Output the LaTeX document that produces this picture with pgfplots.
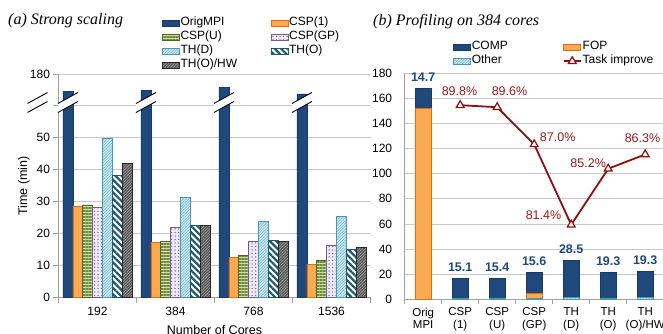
\documentclass[border=0pt]{standalone}
\usepackage{fontspec}
\setmainfont{Liberation Sans}
\newfontfamily\serifit{Liberation Serif}
\usepackage{pgfplots}
\pgfplotsset{compat=1.18}
\usetikzlibrary{patterns.meta}
\definecolor{cMPI}{RGB}{31,73,125}
\definecolor{cMPIb}{RGB}{25,58,102}
\definecolor{cOr}{RGB}{250,170,80}
\definecolor{cOrb}{RGB}{228,108,10}
\definecolor{cGr}{RGB}{205,222,170}
\definecolor{cGrl}{RGB}{110,140,60}
\definecolor{cGrb}{RGB}{80,100,40}
\definecolor{cLav}{RGB}{238,234,244}
\definecolor{cLavd}{RGB}{128,100,162}
\definecolor{cLavb}{RGB}{110,95,140}
\definecolor{cTD}{RGB}{205,233,240}
\definecolor{cTDl}{RGB}{110,180,200}
\definecolor{cTDb}{RGB}{75,150,175}
\definecolor{cTO}{RGB}{33,89,104}
\definecolor{cHW}{RGB}{85,85,85}
\definecolor{cHWl}{RGB}{160,160,160}
\definecolor{cHWb}{RGB}{40,40,40}
\definecolor{cLine}{RGB}{140,16,16}
\definecolor{cLab}{RGB}{155,25,25}
\definecolor{cGrid}{RGB}{200,200,200}
\definecolor{cAxis}{RGB}{160,160,160}
\tikzset{
 sMPI/.style={fill=cMPI, draw=cMPIb, line width=0.6pt},
 sCSP1/.style={fill=cOr, draw=cOrb, line width=0.6pt},
 sCSPU/.style={preaction={fill=cGr}, pattern={Lines[angle=0,distance=3pt,line width=1.3pt]}, pattern color=cGrl, draw=cGrb, line width=0.6pt},
 sCSPGP/.style={preaction={fill=cLav}, pattern={Dots[distance=3.5pt,radius=0.75pt]}, pattern color=cLavd, draw=cLavb, line width=0.6pt},
 sTHD/.style={preaction={fill=cTD}, pattern={Lines[angle=45,distance=2pt,line width=0.5pt]}, pattern color=cTDl, draw=cTDb, line width=0.6pt},
 sTHO/.style={preaction={fill=white}, pattern={Lines[angle=-45,distance=4.5pt,line width=2.2pt]}, pattern color=cTO, draw=cTO, line width=0.6pt},
 sHW/.style={preaction={fill=cHW}, pattern={Lines[angle=45,distance=2pt,line width=0.6pt]}, pattern color=cHWl, draw=cHWb, line width=0.6pt},
}
\pgfplotsset{
 /pgf/number format/assume math mode=true,
 barleg/.style={legend image code/.code={\draw[##1] (0pt,-3pt) rectangle (17pt,3pt);}},
}
\newcommand\brk[2]{%
 \begin{scope}[shift={(axis cs:#1,#2)}]
  \fill[white] (-10pt,-10pt) -- (10pt,1pt) -- (10pt,10pt) -- (-10pt,-1pt) -- cycle;
  \draw[black, line width=0.9pt] (-10pt,-10pt) -- (10pt,1pt) (-10pt,-1pt) -- (10pt,10pt);
 \end{scope}}
\begin{document}
\begin{tikzpicture}
\useasboundingbox (0pt,0pt) rectangle (663pt,334pt);
\node[anchor=base west, inner sep=0pt, font=\serifit\itshape\fontsize{16}{19}\selectfont] at (8pt,309pt) {(a) Strong scaling};
\node[anchor=base west, inner sep=0pt, font=\serifit\itshape\fontsize{16}{19}\selectfont] at (373pt,308.5pt) {(b) Profiling on 384 cores};

\begin{axis}[at={(58.5pt,36.3pt)}, anchor=south west, scale only axis,
 width=312pt, height=223.2pt,
 ybar=0pt, bar width=9.86pt, clip=false,
 xmin=-0.5, xmax=3.5, ymin=0, ymax=69.75,
 xtick={-0.5,0.5,1.5,2.5,3.5}, x tick label as interval,
 xticklabels={192,384,768,1536},
 ytick={0,10,20,30,40,50,60,69.75}, yticklabels={0,10,20,30,40,50,{},180},
 axis x line*=bottom, axis y line*=left,
 axis line style={-,draw=cAxis,line width=0.8pt},
 tick align=outside, major tick length=5pt,
 tick style={draw=cAxis,line width=0.8pt},
 ymajorgrids, grid style={draw=cGrid,line width=0.8pt},
 ticklabel style={font=\fontsize{12}{14}\selectfont},
 xticklabel style={yshift=-1pt},
 ylabel={Time (min)},
 ylabel style={at={(axis description cs:-0.1106,0.5)}, anchor=center, font=\fontsize{12.5}{14}\selectfont},
 xlabel={Number of Cores},
 xlabel style={at={(axis description cs:0.5,-0.1671)}, anchor=base, font=\fontsize{12.5}{14}\selectfont},
 legend columns=2,
 legend style={draw=none, fill=none, at={(axis description cs:0.3308,1.2608)}, anchor=north west,
   inner sep=0pt, column sep=0pt, row sep=0pt,
   nodes={inner sep=1pt, text height=8.5pt, text depth=3.5pt, font=\fontsize{12}{14}\selectfont}},
 legend cell align=left,
]
\addplot[sMPI,barleg] coordinates {(0,64.4) (1,64.9) (2,65.75) (3,63.7)};
\addlegendentry{\makebox[89pt][l]{OrigMPI}}
\addplot[sCSP1,barleg] coordinates {(0,28.7) (1,17.3) (2,12.5) (3,10.5)};
\addlegendentry{\makebox[89pt][l]{CSP(1)}}
\addplot[sCSPU,barleg] coordinates {(0,29.0) (1,17.7) (2,13.1) (3,11.6)};
\addlegendentry{\makebox[89pt][l]{CSP(U)}}
\addplot[sCSPGP,barleg] coordinates {(0,28.4) (1,22.0) (2,17.5) (3,16.5)};
\addlegendentry{\makebox[89pt][l]{CSP(GP)}}
\addplot[sTHD,barleg] coordinates {(0,49.7) (1,31.4) (2,23.8) (3,25.3)};
\addlegendentry{\makebox[89pt][l]{TH(D)}}
\addplot[sTHO,barleg] coordinates {(0,38.3) (1,22.7) (2,17.8) (3,15.2)};
\addlegendentry{\makebox[89pt][l]{TH(O)}}
\addplot[sHW,barleg] coordinates {(0,42.0) (1,22.7) (2,17.5) (3,15.7)};
\addlegendentry{\makebox[89pt][l]{TH(O)/HW}}
\brk{-0.7692}{61}
\brk{-0.379}{61}
\brk{0.621}{61}
\brk{1.621}{61}
\brk{2.621}{61}
\end{axis}

\begin{axis}[at={(404.7pt,34.7pt)}, anchor=south west, scale only axis,
 width=259pt, height=226pt,
 ybar stacked, bar width=16pt,
 xmin=-0.5, xmax=6.5, ymin=0, ymax=180,
 xtick={-0.5,0.5,1.5,2.5,3.5,4.5,5.5,6.5}, x tick label as interval,
 xticklabels={{Orig\\MPI},{CSP\\(1)},{CSP\\(U)},{CSP\\(GP)},{TH\\(D)},{TH\\(O)},{TH\\(O)/HW}},
 ytick={0,20,...,180},
 axis x line*=bottom, axis y line*=left,
 axis line style={-,draw=cAxis,line width=0.8pt},
 tick align=outside, major tick length=5pt,
 tick style={draw=cAxis,line width=0.8pt},
 ytick style={draw=none},
 ymajorgrids, grid style={draw=cGrid,line width=0.8pt},
 ticklabel style={font=\fontsize{12}{14}\selectfont},
 yticklabel style={xshift=-4pt},
 xticklabel style={align=center, font=\fontsize{11.5}{12.5}\selectfont},
]
\addplot[sTHD] coordinates {(0,0) (1,0.5) (2,0.5) (3,0.5) (4,1.5) (5,0.5) (6,1.5)};
\addplot[sCSP1] coordinates {(0,152) (1,0) (2,0) (3,4.5) (4,0) (5,0) (6,0)};
\addplot[sMPI] coordinates {(0,16) (1,16.3) (2,16.3) (3,16.6) (4,29.4) (5,21.1) (6,20.9)};
\end{axis}

\begin{axis}[at={(404.7pt,34.7pt)}, anchor=south west, scale only axis,
 width=259pt, height=226pt, hide axis, clip=false,
 xmin=-0.5, xmax=6.5, ymin=0, ymax=180,
 legend columns=2,
 legend style={draw=none, fill=none, at={(axis description cs:0.1865,1.1473)}, anchor=north west,
   inner sep=0pt, column sep=0pt, row sep=0pt,
   nodes={inner sep=1pt, text height=8.5pt, text depth=3.5pt, font=\fontsize{12}{14}\selectfont}},
 legend cell align=left,
]
\addplot[draw=none, mark=none, forget plot, point meta=explicit symbolic,
  nodes near coords=\pgfplotspointmeta,
  every node near coord/.append style={anchor=center, yshift=11pt, text=cMPI,
   font=\bfseries\fontsize{12.5}{14}\selectfont}]
 coordinates {(0,168)[14.7] (1,16.8)[15.1] (2,16.8)[15.4] (3,21.7)[15.6] (4,30.9)[28.5] (5,21.6)[19.3] (6,22.4)[19.3]};
\addlegendimage{barleg, sMPI}
\addlegendentry{\makebox[90pt][l]{COMP}}
\addlegendimage{barleg, sCSP1}
\addlegendentry{\makebox[90pt][l]{FOP}}
\addlegendimage{barleg, sTHD}
\addlegendentry{\makebox[90pt][l]{Other}}
\addplot[color=cLine, line width=1.8pt, mark=triangle*, mark size=4.5pt,
  mark options={fill=white, draw=cLine, line width=1.2pt},
  point meta=explicit,
  visualization depends on={value \thisrow{dx}\as\ldx},
  visualization depends on={value \thisrow{dy}\as\ldy},
  nodes near coords={\pgfmathprintnumber[fixed,fixed zerofill,precision=1]{\pgfplotspointmeta}\%},
  every node near coord/.append style={anchor=center, xshift=\ldx pt, yshift=\ldy pt, text=cLab,
   font=\fontsize{12.5}{14}\selectfont}]
 table[x=x, y=y, meta=p] {
x y p dx dy
1 154.6 89.8 -0.7 14
2 153.0 89.6 12.3 16
3 123.4 87.0 23.5 7
4 59.4 81.4 -27.7 10
5 104.0 85.2 -20 6
6 115.4 86.3 -2.7 16
};
\addlegendentry{Task improve}
\end{axis}
\end{tikzpicture}
\end{document}
